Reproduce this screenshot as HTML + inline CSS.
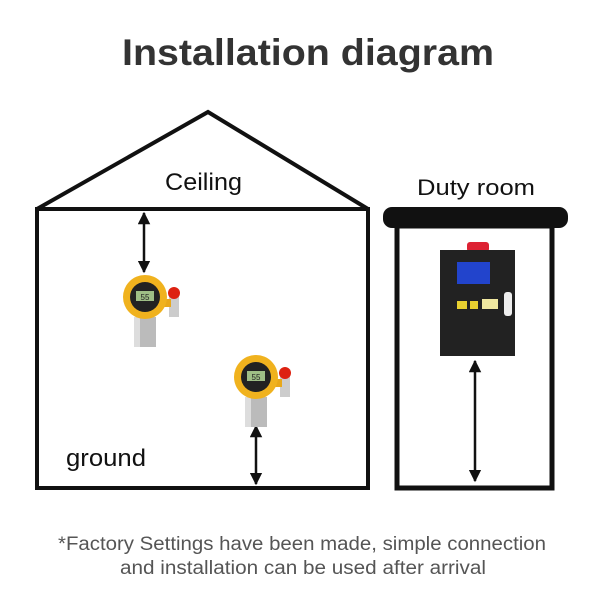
<!DOCTYPE html>
<html><head><style>
body{margin:0;background:#fff;width:600px;height:600px;overflow:hidden}
svg{display:block;font-family:"Liberation Sans",sans-serif}
</style></head><body>
<svg width="600" height="600" viewBox="0 0 600 600">
<defs>
<marker id="a" viewBox="0 0 10 10" refX="9" refY="5" markerWidth="5" markerHeight="5" orient="auto-start-reverse"><path d="M0,0 L10,5 L0,10 z" fill="#111"/></marker>
<g id="det">
 <rect x="-11" y="20" width="22" height="30" fill="#bbb"/>
 <rect x="-11" y="20" width="6" height="30" fill="#ddd"/>
 <rect x="24" y="-2" width="10" height="22" fill="#ccc"/>
 <circle cx="29" cy="-4" r="6" fill="#d21"/>
 <rect x="16" y="2" width="10" height="8" fill="#e8a81a"/>
 <circle cx="0" cy="0" r="22" fill="#f0b21e"/>
 <circle cx="0" cy="0" r="15" fill="#222"/>
 <rect x="-9" y="-6" width="18" height="10" fill="#9fbf86"/>
 <text x="0" y="3" font-size="8" text-anchor="middle" fill="#222">55</text>
</g>
</defs>
<text x="122" y="65" font-size="37" font-weight="bold" fill="#333" textLength="372" lengthAdjust="spacingAndGlyphs">Installation diagram</text>
<path d="M37,209 L208,112 L368,209" fill="none" stroke="#111" stroke-width="4"/>
<rect x="37" y="209" width="331" height="279" fill="none" stroke="#111" stroke-width="4"/>
<text x="165" y="190" font-size="24" fill="#111" textLength="77" lengthAdjust="spacingAndGlyphs">Ceiling</text>
<text x="66" y="466" font-size="24" fill="#111" textLength="80" lengthAdjust="spacingAndGlyphs">ground</text>
<line x1="144" y1="213" x2="144" y2="272" stroke="#111" stroke-width="2.5" marker-start="url(#a)" marker-end="url(#a)"/>
<line x1="256" y1="426" x2="256" y2="484" stroke="#111" stroke-width="2.5" marker-start="url(#a)" marker-end="url(#a)"/>
<use href="#det" x="145" y="297"/>
<use href="#det" x="256" y="377"/>
<text x="417" y="195" font-size="22" fill="#111" textLength="118" lengthAdjust="spacingAndGlyphs">Duty room</text>
<rect x="397" y="226" width="155" height="262" fill="none" stroke="#111" stroke-width="5"/>
<rect x="383" y="207" width="185" height="21" rx="9" fill="#111"/>
<rect x="467" y="242" width="22" height="10" rx="3" fill="#d23"/>
<rect x="440" y="250" width="75" height="106" fill="#222"/>
<rect x="457" y="262" width="33" height="22" fill="#2244cc"/>
<rect x="457" y="301" width="10" height="8" fill="#e8d030"/>
<rect x="470" y="301" width="8" height="8" fill="#e8d030"/>
<rect x="482" y="299" width="16" height="10" fill="#f0e8a0"/>
<rect x="504" y="292" width="8" height="24" rx="3" fill="#eee"/>
<line x1="475" y1="361" x2="475" y2="481" stroke="#111" stroke-width="2.5" marker-start="url(#a)" marker-end="url(#a)"/>
<text x="58" y="550" font-size="19" fill="#555" textLength="488" lengthAdjust="spacingAndGlyphs">*Factory Settings have been made, simple connection</text>
<text x="120" y="574" font-size="19" fill="#555" textLength="366" lengthAdjust="spacingAndGlyphs">and installation can be used after arrival</text>
</svg>
</body></html>
